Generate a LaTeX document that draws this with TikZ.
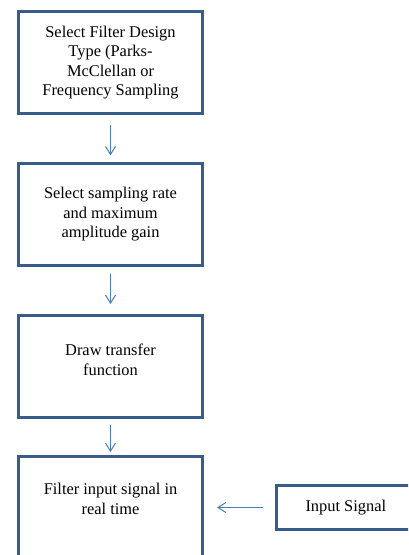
\documentclass[tikz,border=0pt]{standalone}
\usepackage{fontspec}
\setmainfont{Liberation Serif}
\usepackage{xcolor}
\usepackage{tikz}
\usetikzlibrary{positioning,arrows.meta}
\definecolor{boxblue}{RGB}{56,93,138}
\definecolor{arrowblue}{RGB}{74,126,187}

\begin{document}
\begin{tikzpicture}[x=0.75pt, y=-0.75pt, node distance=35.25pt,
        block/.style={draw=boxblue, line width=2.25pt, rectangle, minimum width=138pt, minimum height=76.5pt, align=center, font=\fontsize{12.3}{14.6}\selectfont},
        flow/.style={draw=arrowblue, line width=0.75pt, -{Straight Barb[length=6pt, width=7.5pt]}}
    ]
        \useasboundingbox (0,0) rectangle (408,555);
        \clip (0,0) rectangle (408,555);

        \node [block] (design) at (110.5,62.5) {Select Filter Design\\Type (Parks-\\McClellan or\\Frequency Sampling};
        \node [block, below=of design] (rate) {Select sampling rate\\and maximum\\amplitude gain};
        \node [block, below=of rate, text depth=10pt] (tf) {Draw transfer\\function};
        \node [block, below=27pt of tf, text depth=13pt] (filt) {Filter input signal in\\real time};
        \node [block, right=53.25pt of filt, minimum width=104pt, minimum height=33pt] (insig) {Input Signal};

        \draw [flow, shorten <=7.5pt, shorten >=5pt] (design) -- (rate);
        \draw [flow, shorten <=5pt, shorten >=7.5pt] (rate) -- (tf);
        \draw [flow, shorten <=4.5pt, shorten >=2.25pt] (tf) -- (filt);
        \draw [flow, shorten <=9pt, shorten >=9.75pt] (insig) -- (filt);
    \end{tikzpicture}
\end{document}
